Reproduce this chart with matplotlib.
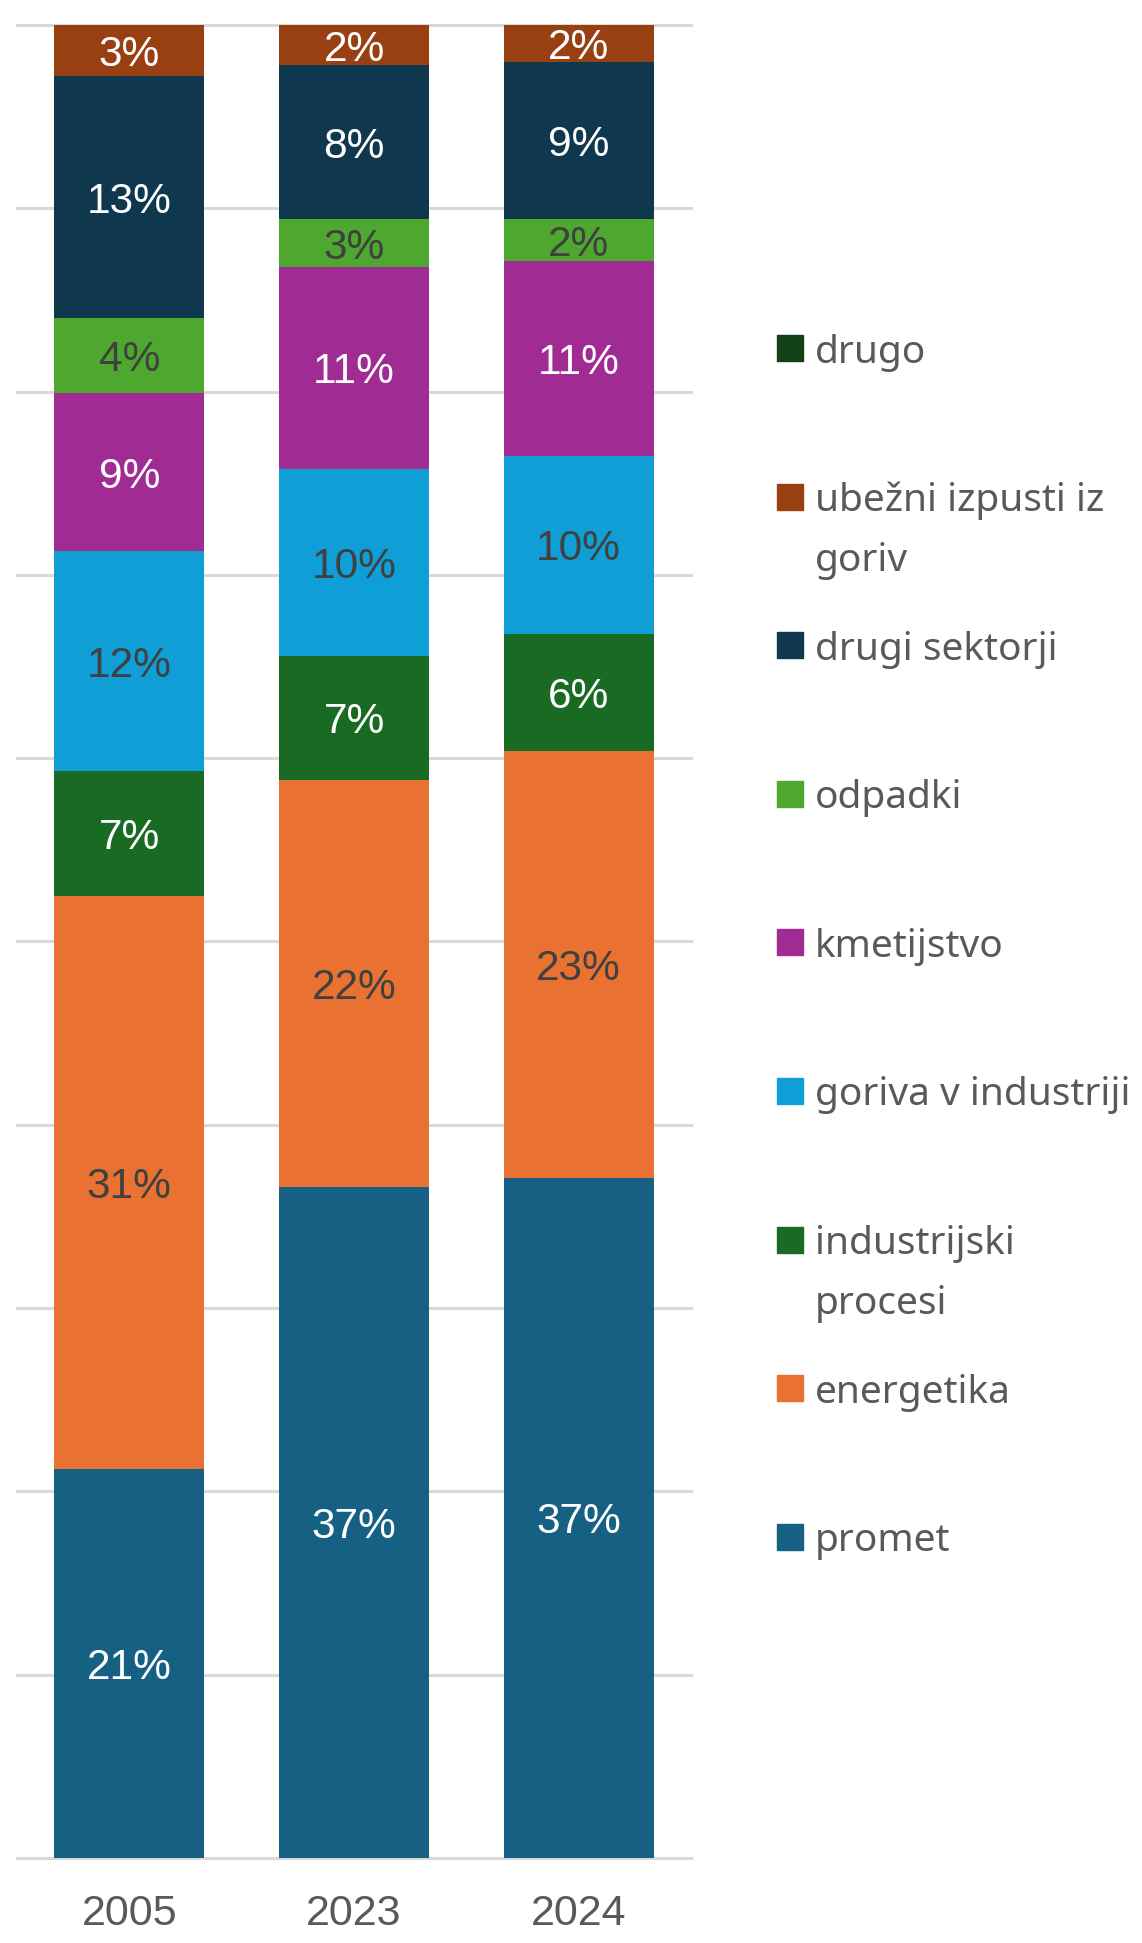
import matplotlib
matplotlib.use("Agg")
from matplotlib import pyplot as plt
from matplotlib.patches import Rectangle
import numpy as np

years = ["2005", "2023", "2024"]

# stacking order, bottom -> top
sectors = ["promet", "energetika", "industrijski\nprocesi", "goriva v industriji",
           "kmetijstvo", "odpadki", "drugi sektorji", "ubežni izpusti iz\ngoriv", "drugo"]
promet = [21.2, 36.6, 37.1]
energetika = [31.3, 22.2, 23.3]
industrijski = [6.8, 6.8, 6.4]
goriva = [12.0, 10.2, 9.7]
kmetijstvo = [8.6, 11.0, 10.6]
odpadki = [4.1, 2.6, 2.3]
drugi_sektorji = [13.2, 8.4, 8.6]
ubezni = [2.8, 2.2, 2.0]
drugo = [0.0, 0.0, 0.0]
values = [promet, energetika, industrijski, goriva, kmetijstvo, odpadki,
          drugi_sektorji, ubezni, drugo]

colors = ["#166083", "#E97132", "#196B24", "#0F9ED5", "#A02B93", "#4EA72E",
          "#0F384E", "#984012", "#124116"]
label_colors = ["white", "#404040", "white", "#404040", "white", "#404040",
                "white", "white", "white"]

fig = plt.figure(figsize=(11.42, 19.43), dpi=100)
ax = fig.add_axes([17 / 1142, 1 - 1858 / 1943, (691 - 17) / 1142, (1858 - 25) / 1943])

x = np.arange(len(years))
bottom = np.zeros(len(years))
for vals, col, lc in zip(values, colors, label_colors):
    vals = np.array(vals)
    ax.bar(x, vals, width=0.667, bottom=bottom, color=col, zorder=2)
    for xi, b, v in zip(x, bottom, vals):
        if v >= 1:
            ax.text(xi, b + v / 2, f"{round(v)}%", ha="center", va="center_baseline",
                    color=lc, fontsize=30.5, family=["Liberation Sans", "DejaVu Sans"], zorder=3)
    bottom += vals

for t in range(0, 101, 10):
    ax.axhline(t, color="#D9D9D9", lw=2.2, zorder=1, clip_on=False)

ax.set_xlim(-0.5, 2.5)
ax.set_ylim(0, 100)
ax.set_yticks([])
ax.set_xticks(x, years)
ax.tick_params(axis="x", length=0, pad=26, labelsize=31, labelcolor="#595959")
for lab in ax.get_xticklabels():
    lab.set_family(["Liberation Sans", "DejaVu Sans"])
for s in ax.spines.values():
    s.set_visible(False)

# legend drawn by hand, top entry = last stacked series
y0 = 1 - 348 / 1943
step = 148.6 / 1943
line_h = 59.5 / 1943
sq_w = 26 / 1142
sq_h = 26 / 1943
for i, (name, col) in enumerate(zip(sectors[::-1], colors[::-1])):
    yc = y0 - i * step
    fig.patches.append(Rectangle((777 / 1142, yc - sq_h / 2), sq_w, sq_h, color=col,
                                 transform=fig.transFigure, figure=fig))
    for j, line in enumerate(name.split("\n")):
        fig.text(815 / 1142, yc - j * line_h, line, ha="left", va="center_baseline",
                 fontsize=28, color="#595959", family=["Noto Sans", "DejaVu Sans"])

plt.savefig("out.png", dpi=100)
